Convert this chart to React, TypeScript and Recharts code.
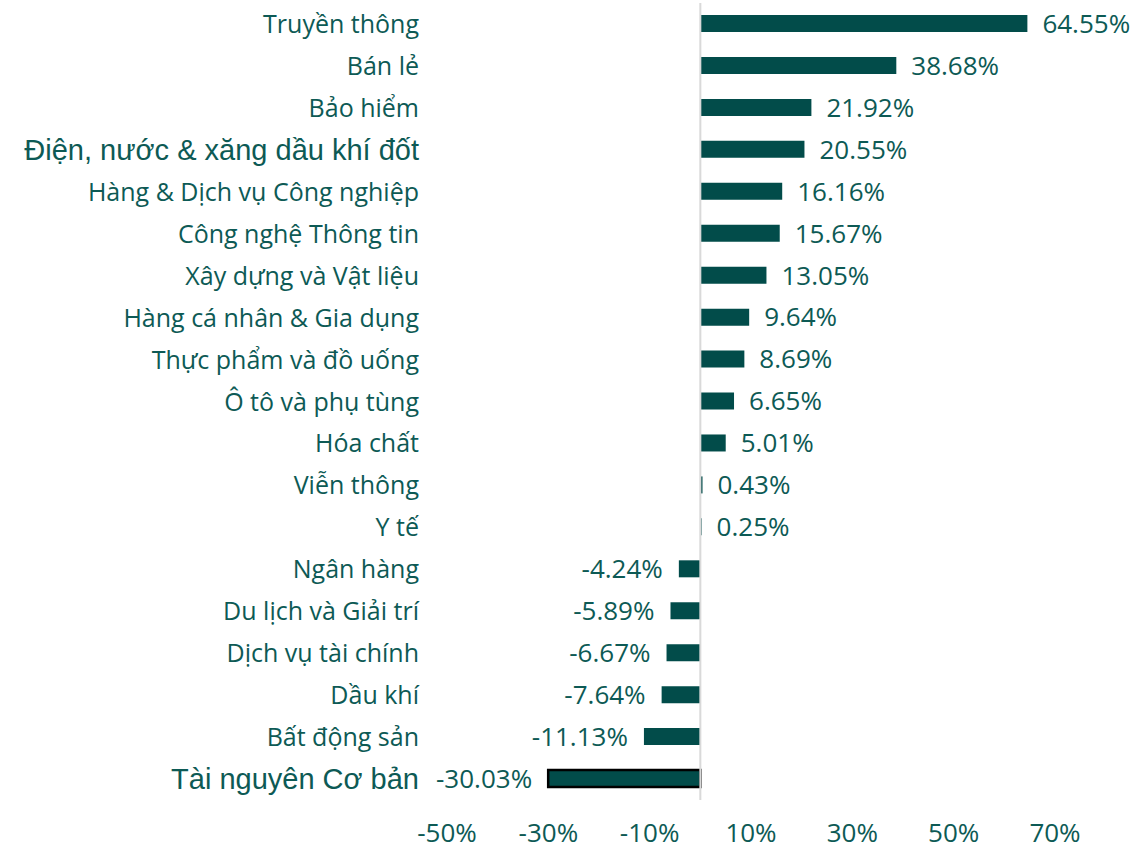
import React from "react";
import { Bar, BarChart, Cell, LabelList, ReferenceLine, XAxis, YAxis } from "recharts";

const categories = [
    "Truyền thông",
    "Bán lẻ",
    "Bảo hiểm",
    "Điện, nước & xăng dầu khí đốt",
    "Hàng & Dịch vụ Công nghiệp",
    "Công nghệ Thông tin",
    "Xây dựng và Vật liệu",
    "Hàng cá nhân & Gia dụng",
    "Thực phẩm và đồ uống",
    "Ô tô và phụ tùng",
    "Hóa chất",
    "Viễn thông",
    "Y tế",
    "Ngân hàng",
    "Du lịch và Giải trí",
    "Dịch vụ tài chính",
    "Dầu khí",
    "Bất động sản",
    "Tài nguyên Cơ bản",
];

const values = [
    64.55, 38.68, 21.92, 20.55, 16.16, 15.67, 13.05, 9.64, 8.69, 6.65, 5.01, 0.43, 0.25, -4.24, -5.89, -6.67, -7.64,
    -11.13, -30.03,
];

const xTicks = [-50, -30, -10, 10, 30, 50, 70];

// labels rendered in a different (Arial-like) font in the source
const arialLabels = ["Điện, nước & xăng dầu khí đốt", "Tài nguyên Cơ bản"];
const outlinedCategory = "Tài nguyên Cơ bản";

const data = categories.map((name, i) => ({ name, value: values[i] }));

const COLORS = {
    bar: "#024c4a",
    text: "#0d5a55",
    zeroLine: "#d9d9d9",
};

const FONT = "'Open Sans', sans-serif";

function CategoryTick(props: any) {
    const { x, y, payload } = props;
    const isArial = arialLabels.includes(payload.value);
    return (
        <text
            x={x}
            y={y}
            dy="0.36em"
            textAnchor="end"
            fill={COLORS.text}
            fontFamily={isArial ? "'Liberation Sans', Arial, sans-serif" : FONT}
            fontSize={isArial ? 29 : 25}
        >
            {payload.value}
        </text>
    );
}

function ValueLabel(props: any) {
    const { x, y, width, height, value } = props;
    const neg = value < 0;
    const start = Math.min(x, x + width);
    const end = Math.max(x, x + width);
    return (
        <text
            x={neg ? start - 16 : end + 15}
            y={y + height / 2}
            dy="0.36em"
            textAnchor={neg ? "end" : "start"}
            fill={COLORS.text}
            fontFamily={FONT}
            fontSize={26}
        >
            {value.toFixed(2)}%
        </text>
    );
}

export default function App() {
    return (
        <div style={{ position: "absolute", left: 0, top: 0, width: 1139, height: 849, background: "#fff" }}>
            <BarChart
                width={1139}
                height={849}
                data={data}
                layout="vertical"
                margin={{ top: 3, right: 84, bottom: 0, left: 0 }}
                barCategoryGap={0}
            >
                <XAxis
                    type="number"
                    domain={[-50, 70]}
                    ticks={xTicks}
                    allowDataOverflow
                    axisLine={false}
                    tickLine={false}
                    tickSize={0}
                    tickMargin={24}
                    height={49}
                    tickFormatter={(v: number) => `${v}%`}
                    tick={{ fill: COLORS.text, fontFamily: FONT, fontSize: 26 }}
                />
                <YAxis
                    type="category"
                    dataKey="name"
                    width={447}
                    axisLine={false}
                    tickLine={false}
                    tickSize={0}
                    tickMargin={28}
                    interval={0}
                    tick={<CategoryTick />}
                />
                <ReferenceLine x={0} stroke={COLORS.zeroLine} strokeWidth={2} />
                <Bar dataKey="value" barSize={17} fill={COLORS.bar} isAnimationActive={false}>
                    {data.map((d) => (
                        <Cell
                            key={d.name}
                            fill={COLORS.bar}
                            stroke={d.name === outlinedCategory ? "#000" : "none"}
                            strokeWidth={d.name === outlinedCategory ? 2.5 : 0}
                        />
                    ))}
                    <LabelList dataKey="value" content={<ValueLabel />} />
                </Bar>
            </BarChart>
        </div>
    );
}
